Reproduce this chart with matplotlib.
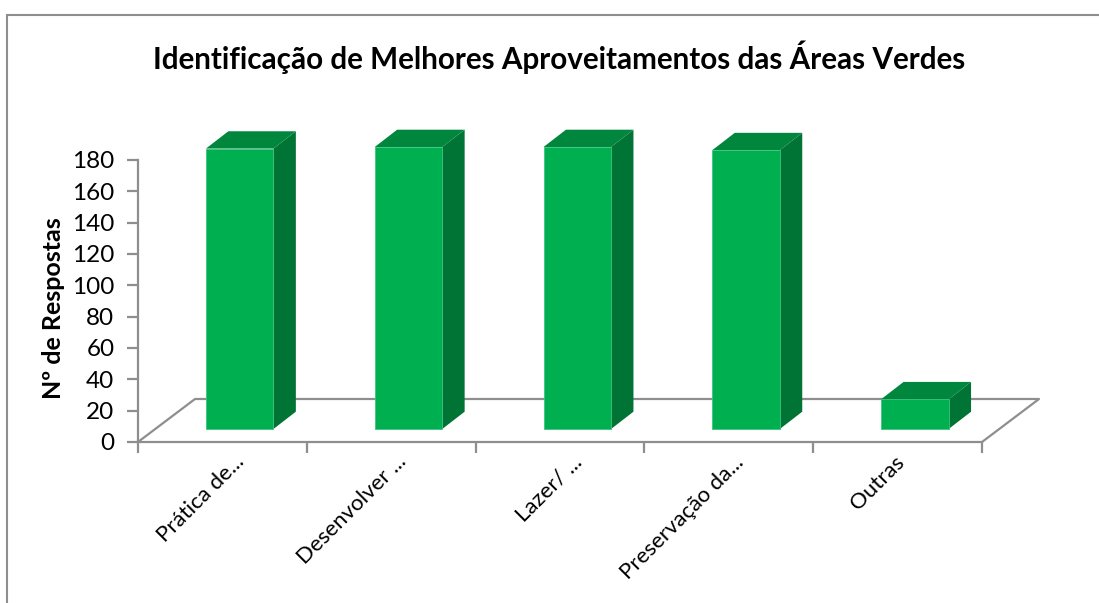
import matplotlib
matplotlib.use('Agg')
import matplotlib.pyplot as plt
from matplotlib.patches import Polygon, Rectangle

categorias = ['Prática de...', 'Desenvolver ...', 'Lazer/ ...', 'Preservação da...', 'Outras']
respostas = [179, 180, 180, 178, 19]
ticks_y = [0, 20, 40, 60, 80, 100, 120, 140, 160, 180]

VERDE = '#00B050'
VERDE_LADO = '#007434'
VERDE_TOPO = '#00863D'
CINZA = '#8E8E8E'

plt.rcParams['font.family'] = ['Lato', 'DejaVu Sans']

W, H = 1099, 603
fig = plt.figure(figsize=(W / 100, H / 100), dpi=100)

# moldura do grafico
fig.add_artist(Rectangle((6.5 / W, -0.02), 1.2, 1 - 15 / H + 0.02, transform=fig.transFigure,
                         fill=False, edgecolor=CINZA, linewidth=1.5))

# eixos: x0=138 x1=982, y0=442 y180=160 (pixels)
ax = fig.add_axes([138 / W, 1 - 442 / H, 844 / W, 282 / H])
ax.set_xlim(0, 5)
ax.set_ylim(0, 180)
ax.patch.set_visible(False)
for lado in ['top', 'right']:
    ax.spines[lado].set_visible(False)
for lado in ['left', 'bottom']:
    ax.spines[lado].set_color(CINZA)
    ax.spines[lado].set_linewidth(1.6)

px_x = 5 / 844
px_y = 180 / 282

# chao em perspectiva
fx, fy = 57 * px_x, 43 * px_y
ax.plot([0, fx, 5 + fx, 5], [0, fy, fy, 0], color=CINZA, lw=1.6, clip_on=False, zorder=1)

# barras com profundidade
largura = 67.5 * px_x
desl_x, desl_y = 17.3 * px_x, 13 * px_y
prof_x, prof_y = 22.4 * px_x, 17.3 * px_y
for i, v in enumerate(respostas):
    x0 = i + 0.5 + desl_x - largura / 2
    x1 = x0 + largura
    y0 = desl_y
    y1 = y0 + v
    ax.add_patch(Polygon([(x1, y0), (x1 + prof_x, y0 + prof_y), (x1 + prof_x, y1 + prof_y), (x1, y1)],
                         facecolor=VERDE_LADO, edgecolor='none', clip_on=False, zorder=2))
    ax.add_patch(Polygon([(x0, y1), (x1, y1), (x1 + prof_x, y1 + prof_y), (x0 + prof_x, y1 + prof_y)],
                         facecolor=VERDE_TOPO, edgecolor='none', clip_on=False, zorder=2))
    ax.add_patch(Rectangle((x0, y0), largura, v, facecolor=VERDE, edgecolor='#3CC47C',
                           linewidth=0.6, clip_on=False, zorder=3))

ax.set_yticks(ticks_y)
ax.set_xticks(range(6))
ax.set_xticklabels([])
ax.tick_params(axis='both', color=CINZA, width=1.6, length=8)
ax.tick_params(axis='y', labelsize=17.5, pad=9)
ax.set_ylabel('Nº de Respostas', fontsize=18, fontweight='bold')
ax.yaxis.set_label_coords(-0.0866, 0.475)

# ajuste fino de cada rotulo (px), o excel nao alinha igual
ajuste_x = [5, -2, 5, -2, -10]
for i, nome in enumerate(categorias):
    ax.annotate(nome, xy=(i + 0.5, 0), xycoords='data', xytext=(5 + ajuste_x[i] * 0.72, -7),
                textcoords='offset points', rotation=45, ha='right', va='top',
                rotation_mode='anchor', fontsize=16, annotation_clip=False)

fig.text(559.5 / W, 1 - 57 / H, 'Identificação de Melhores Aproveitamentos das Áreas Verdes',
         fontsize=21.3, fontweight='bold', ha='center', va='center')

fig.savefig('out.png', dpi=100)
